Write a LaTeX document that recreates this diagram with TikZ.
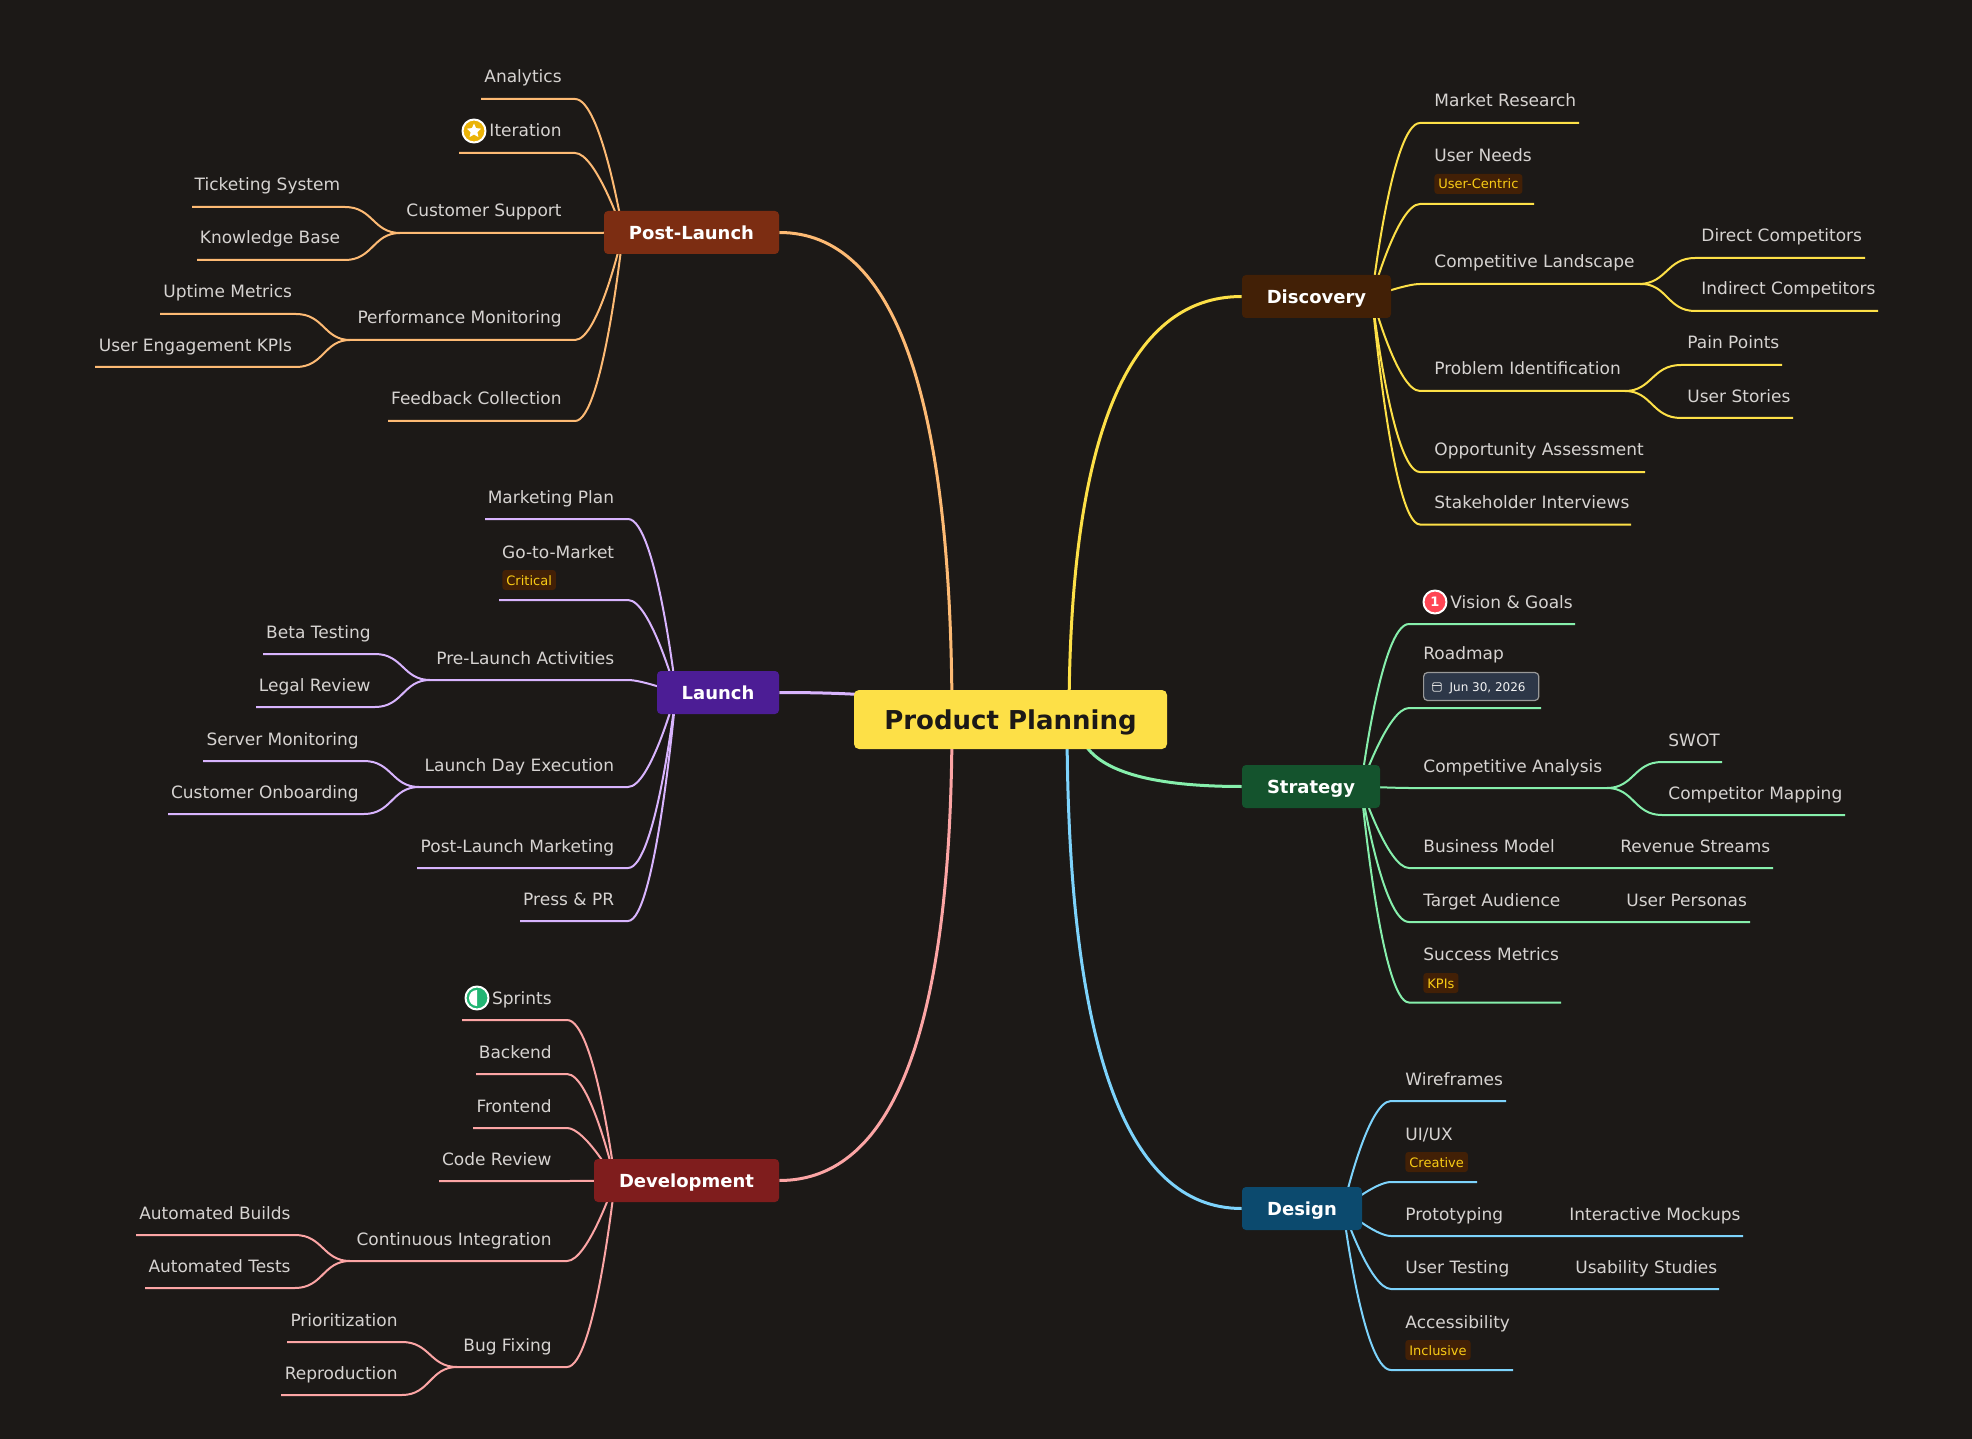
\documentclass[tikz,border=0pt]{standalone}
\usepackage{fontspec}
\setmainfont{DejaVu Sans}
\usetikzlibrary{backgrounds, shapes.geometric}

\definecolor{bgdark}{HTML}{1C1917}
\definecolor{leaftext}{HTML}{D6D3D1}
\definecolor{rootfill}{HTML}{FDE047}
\definecolor{disccol}{HTML}{FDE047}
\definecolor{discfill}{HTML}{422006}
\definecolor{stratcol}{HTML}{86EFAC}
\definecolor{stratfill}{HTML}{14532D}
\definecolor{dsgncol}{HTML}{7DD3FC}
\definecolor{dsgnfill}{HTML}{0C4A6E}
\definecolor{devcol}{HTML}{FCA5A5}
\definecolor{devfill}{HTML}{7F1D1D}
\definecolor{launchcol}{HTML}{D8B4FE}
\definecolor{launchfill}{HTML}{4C1D95}
\definecolor{postcol}{HTML}{FDBA74}
\definecolor{postfill}{HTML}{7C2D12}
\definecolor{badgetext}{HTML}{FACC15}
\definecolor{datefill}{HTML}{2D3748}
\definecolor{redicon}{HTML}{FF4655}
\definecolor{yellowicon}{HTML}{EAB308}
\definecolor{greenicon}{HTML}{22B573}

\tikzset{
  rootnode/.style={fill=rootfill, text=bgdark, rounded corners=2.5pt, font=\fontsize{13}{15}\selectfont\bfseries,
    minimum width=156.5pt, minimum height=29.5pt, inner sep=0, text height=12pt, text depth=2.5pt},
  branch/.style={text=white, rounded corners=2pt, font=\fontsize{9}{11}\selectfont\bfseries,
    minimum height=21.5pt, inner sep=0, text height=8.6pt, text depth=1.8pt},
  leaf/.style={text=leaftext, inner sep=0, font=\fontsize{8.5}{10}\selectfont},
  badge/.style={fill=discfill, text=badgetext, rounded corners=1.5pt, inner xsep=2pt, inner ysep=0,
    font=\fontsize{6.5}{8}\selectfont, text height=6.2pt, text depth=1.2pt, minimum height=10pt},
  mainline/.style={line width=1.5pt},
  subline/.style={line width=1pt},
  icon/.style={circle, draw=white, line width=1pt, inner sep=0, minimum size=11.5pt}
}

\begin{document}
\begin{tikzpicture}[x=0.5pt, y=-0.5pt, line cap=round, line join=round]

    \useasboundingbox (0,0) rectangle (1972,1439);
    \begin{scope}[on background layer]
        \fill[bgdark] (0,0) rectangle (1972,1439);
    \end{scope}

    % Root and branches
    \node[rootnode] (root) at (1010.5,719.5) {Product Planning};
    \node[branch, fill=discfill, minimum width=74.5pt] (disc) at (1316.5,296.5) {Discovery};
    \node[branch, fill=stratfill, minimum width=69pt] (strat) at (1311,786.5) {Strategy};
    \node[branch, fill=dsgnfill, minimum width=60pt] (dsgn) at (1302,1208.5) {Design};
    \node[branch, fill=postfill, minimum width=87.5pt] (post) at (691.5,232.5) {Post-Launch};
    \node[branch, fill=launchfill, minimum width=61pt] (launch) at (718,692.5) {Launch};
    \node[branch, fill=devfill, minimum width=92.5pt] (devel) at (686.5,1180.5) {Development};

    % Origins of the curves, hidden under the nodes
    \coordinate (root-d) at (1069,720);
    \coordinate (root-s) at (1078,720);
    \coordinate (root-g) at (1067,720);
    \coordinate (root-l) at (952,720);
    \coordinate (disc-o) at (1372,296.5);
    \coordinate (strat-o) at (1361,786.5);
    \coordinate (dsgn-o) at (1343,1208.5);
    \coordinate (post-o) at (623,232.5);
    \coordinate (launch-o) at (676,692.5);
    \coordinate (devel-o) at (615,1180.5);

    % Main curves
    \begin{scope}[on background layer]
        \draw[mainline, disccol] (root-d) .. controls (1069,437.7) and (1127.3,296.5) .. (disc.west);
        \draw[mainline, stratcol] (root-s) .. controls (1078,764.3) and (1132.7,786.5) .. (strat.west);
        \draw[mainline, dsgncol] (root-g) .. controls (1067,1045.7) and (1125.3,1208.5) .. (dsgn.west);
        \draw[mainline, postcol] (root-l) .. controls (952,395) and (894.3,232.5) .. (post.east);
        \draw[mainline, launchcol] (root-l) .. controls (952,701.7) and (894.3,692.5) .. (launch.east);
        \draw[mainline, devcol] (root-l) .. controls (952,1027) and (894.3,1180.5) .. (devel.east);
    \end{scope}

    % Discovery
    \def\tx{1434}
    \foreach \nm/\ly/\ex in {mresearch/123/1579, uneeds/204/1534, cland/284/1640, probid/391/1625,
        opport/472/1645, stakeh/524.5/1631} {
        \coordinate (\nm-end) at (\ex,\ly);
        \pgfmathsetmacro\cdx{20+15*max(0,1-abs(\ly-296.5)/150)}
        \begin{scope}[on background layer]
            \draw[subline, disccol] (disc-o) .. controls (disc-o) and (1372+\cdx,\ly) .. (1420,\ly) -- (\nm-end);
        \end{scope}
    }
    \foreach \nm/\txt/\ly in {mresearch/Market Research/107, uneeds/User Needs/162,
        cland/Competitive Landscape/268, probid/Problem Identification/375,
        opport/Opportunity Assessment/456, stakeh/Stakeholder Interviews/508.5} {
        \node[leaf, anchor=base west] (\nm) at (\tx,\ly) {\txt};
    }
    \node[badge, anchor=west] (uneeds-tag) at (\tx,184) {User-Centric};
    \foreach \nm/\txt/\ly/\ex/\jn/\jy/\sx/\mx in {dirc/Direct Competitors/258/1865/cland/283/1701/1667,
        indc/Indirect Competitors/311/1878/cland/283/1701/1667,
        pain/Pain Points/365/1782/probid/391/1687/1652, stor/User Stories/418/1793/probid/391/1687/1652} {
        \node[leaf, anchor=base west] (\nm) at (\sx,\ly-16) {\txt};
        \coordinate (\nm-end) at (\ex,\ly);
        \begin{scope}[on background layer]
            \draw[subline, disccol] (\jn-end) .. controls (\mx,\jy) and (\mx,\ly) .. (\sx-6,\ly) -- (\nm-end);
        \end{scope}
    }

    % Strategy
    \def\tx{1423}
    \foreach \nm/\ly/\ex in {vision/624/1575, roadm/708/1541, canal/788/1607, bmodel/868/1773,
        target/922/1750, smetr/1002.5/1561} {
        \coordinate (\nm-end) at (\ex,\ly);
        \pgfmathsetmacro\cdx{20+15*max(0,1-abs(\ly-786.5)/150)}
        \begin{scope}[on background layer]
            \draw[subline, stratcol] (strat-o) .. controls (strat-o) and (1361+\cdx,\ly) .. (1409,\ly) -- (\nm-end);
        \end{scope}
    }
    \node[leaf, anchor=base west] (vision) at (1450,608) {Vision \& Goals};
    \node[icon, fill=redicon] (vision-ic) at (1435,602) {\fontsize{6.5}{8}\selectfont\bfseries\color{white}1};
    \node[leaf, anchor=base west] (roadm) at (\tx,659) {Roadmap};
    \node[anchor=west, fill=datefill, draw=gray!80!white, line width=0.6pt, rounded corners=2pt, text=white!90!gray,
        inner xsep=6.6pt, inner ysep=0, font=\fontsize{6}{8}\selectfont, minimum height=14pt, text height=5.6pt, text depth=1pt] (roadm-date) at (\tx,686.5) {\hspace*{6.4pt}Jun 30, 2026};
    \node[draw=white!75!gray, line width=0.4pt, rounded corners=0.5pt, inner sep=0, minimum width=4.2pt, minimum height=4.2pt] (cal) at (1437,687) {};
    \draw[white!75!gray, line width=0.4pt] (cal.west) ++(0,-2) -- ++(8.4,0);
    \node[leaf, anchor=base west] (canal) at (\tx,772) {Competitive Analysis};
    \node[leaf, anchor=base west] (bmodel) at (\tx,852) {Business Model};
    \node[leaf, anchor=base west] (revstr) at (1620,852) {Revenue Streams};
    \node[leaf, anchor=base west] (target) at (\tx,906) {Target Audience};
    \node[leaf, anchor=base west] (usrper) at (1626,906) {User Personas};
    \node[leaf, anchor=base west] (smetr) at (\tx,960.5) {Success Metrics};
    \node[badge, anchor=west] (smetr-tag) at (\tx,983) {KPIs};
    \foreach \nm/\txt/\ly/\ex in {swot/SWOT/762/1722, cmap/Competitor Mapping/815/1845} {
        \node[leaf, anchor=base west] (\nm) at (1668,\ly-16) {\txt};
        \coordinate (\nm-end) at (\ex,\ly);
        \begin{scope}[on background layer]
            \draw[subline, stratcol] (canal-end) .. controls (1634,788) and (1634,\ly) .. (1662,\ly) -- (\nm-end);
        \end{scope}
    }

    % Design
    \def\tx{1405}
    \foreach \nm/\ly/\ex in {wirefr/1101/1506, uiux/1182/1477, proto/1236/1743, utest/1289/1719, access/1370/1513} {
        \coordinate (\nm-end) at (\ex,\ly);
        \pgfmathsetmacro\cdx{20+15*max(0,1-abs(\ly-1208.5)/150)}
        \begin{scope}[on background layer]
            \draw[subline, dsgncol] (dsgn-o) .. controls (dsgn-o) and (1343+\cdx,\ly) .. (1391,\ly) -- (\nm-end);
        \end{scope}
    }
    \node[leaf, anchor=base west] (wirefr) at (\tx,1085) {Wireframes};
    \node[leaf, anchor=base west] (uiux) at (\tx,1140) {UI/UX};
    \node[badge, anchor=west] (uiux-tag) at (\tx,1162) {Creative};
    \node[leaf, anchor=base west] (proto) at (\tx,1220) {Prototyping};
    \node[leaf, anchor=base west] (mockup) at (1569,1220) {Interactive Mockups};
    \node[leaf, anchor=base west] (utest) at (\tx,1273) {User Testing};
    \node[leaf, anchor=base west] (usabil) at (1575,1273) {Usability Studies};
    \node[leaf, anchor=base west] (access) at (\tx,1328) {Accessibility};
    \node[badge, anchor=west] (access-tag) at (\tx,1350) {Inclusive};

    % Post-Launch
    \def\tx{562}
    \foreach \nm/\ly/\ex in {analyt/99/481, iterat/153/459, csupp/233/400, perfm/340/350, feedb/421/388} {
        \coordinate (\nm-end) at (\ex,\ly);
        \pgfmathsetmacro\cdx{20+15*max(0,1-abs(\ly-232.5)/150)}
        \begin{scope}[on background layer]
            \draw[subline, postcol] (post-o) .. controls (post-o) and (623-\cdx,\ly) .. (575,\ly) -- (\nm-end);
        \end{scope}
    }
    \node[leaf, anchor=base east] (analyt) at (\tx,83) {Analytics};
    \node[leaf, anchor=base east] (iterat) at (\tx,137) {Iteration};
    \node[icon, fill=yellowicon] (iterat-ic) at (474,131) {};
    \node[star, star points=5, star point ratio=2.1, fill=white, inner sep=0, minimum size=7.5pt] (iterat-star) at (iterat-ic) {};
    \node[leaf, anchor=base east] (csupp) at (\tx,217) {Customer Support};
    \node[leaf, anchor=base east] (perfm) at (\tx,324) {Performance Monitoring};
    \node[leaf, anchor=base east] (feedb) at (\tx,405) {Feedback Collection};
    \foreach \nm/\txt/\ly/\ex/\jn/\jy/\sx/\mx in {ticket/Ticketing System/207/192/csupp/233/340.5/373,
        knowb/Knowledge Base/260/197/csupp/233/340.5/373,
        uptime/Uptime Metrics/314/160/perfm/340/292.5/324, ueng/User Engagement KPIs/367/95/perfm/340/292.5/324} {
        \node[leaf, anchor=base east] (\nm) at (\sx,\ly-16) {\txt};
        \coordinate (\nm-end) at (\ex,\ly);
        \begin{scope}[on background layer]
            \draw[subline, postcol] (\jn-end) .. controls (\mx,\jy) and (\mx,\ly) .. (\mx-28,\ly) -- (\nm-end);
        \end{scope}
    }

    % Launch
    \def\tx{614.5}
    \foreach \nm/\ly/\ex in {mplan/519/485, gotom/600/499, prelch/680/430, lday/787/419, plmark/868/417, press/921/520} {
        \coordinate (\nm-end) at (\ex,\ly);
        \pgfmathsetmacro\cdx{20+15*max(0,1-abs(\ly-692.5)/150)}
        \begin{scope}[on background layer]
            \draw[subline, launchcol] (launch-o) .. controls (launch-o) and (676-\cdx,\ly) .. (628,\ly) -- (\nm-end);
        \end{scope}
    }
    \node[leaf, anchor=base east] (mplan) at (\tx,503) {Marketing Plan};
    \node[leaf, anchor=base east] (gotom) at (\tx,558) {Go-to-Market};
    \node[badge, anchor=west] (gotom-tag) at (502,580) {Critical};
    \node[leaf, anchor=base east] (prelch) at (\tx,664) {Pre-Launch Activities};
    \node[leaf, anchor=base east] (lday) at (\tx,771) {Launch Day Execution};
    \node[leaf, anchor=base east] (plmark) at (\tx,852) {Post-Launch Marketing};
    \node[leaf, anchor=base east] (press) at (\tx,905) {Press \& PR};
    \foreach \nm/\txt/\ly/\ex/\jn/\jy/\sx/\mx in {beta/Beta Testing/654/263/prelch/680/371/403,
        legal/Legal Review/707/256/prelch/680/371/403,
        server/Server Monitoring/761/203/lday/787/359/392, onboard/Customer Onboarding/814/168/lday/787/359/392} {
        \node[leaf, anchor=base east] (\nm) at (\sx,\ly-16) {\txt};
        \coordinate (\nm-end) at (\ex,\ly);
        \begin{scope}[on background layer]
            \draw[subline, launchcol] (\jn-end) .. controls (\mx,\jy) and (\mx,\ly) .. (\mx-28,\ly) -- (\nm-end);
        \end{scope}
    }

    % Development
    \def\tx{552}
    \foreach \nm/\txt/\ly/\ex in {sprint/Sprints/1020/462, backe/Backend/1074/476, fronte/Frontend/1128/473,
        coderv/Code Review/1181/439, contin/Continuous Integration/1261/350, bugfix/Bug Fixing/1367/457} {
        \node[leaf, anchor=base east] (\nm) at (\tx,\ly-16) {\txt};
        \coordinate (\nm-end) at (\ex,\ly);
        \pgfmathsetmacro\cdx{20+15*max(0,1-abs(\ly-1180.5)/150)}
        \begin{scope}[on background layer]
            \draw[subline, devcol] (devel-o) .. controls (devel-o) and (615-\cdx,\ly) .. (567,\ly) -- (\nm-end);
        \end{scope}
    }
    \node[icon, fill=greenicon] (sprint-ic) at (477,998) {};
    \fill[white] (sprint-ic.center) ++(0,-8) arc[start angle=90, end angle=270, radius=4pt] -- cycle;
    \foreach \nm/\txt/\ly/\ex/\jn/\jy/\sx/\mx in {abuild/Automated Builds/1235/136/contin/1261/291/323,
        atest/Automated Tests/1288/145/contin/1261/291/323,
        prior/Prioritization/1342/287/bugfix/1367/398/430, repro/Reproduction/1395/281/bugfix/1367/398/430} {
        \node[leaf, anchor=base east] (\nm) at (\sx,\ly-16) {\txt};
        \coordinate (\nm-end) at (\ex,\ly);
        \begin{scope}[on background layer]
            \draw[subline, devcol] (\jn-end) .. controls (\mx,\jy) and (\mx,\ly) .. (\mx-28,\ly) -- (\nm-end);
        \end{scope}
    }

\end{tikzpicture}
\end{document}
